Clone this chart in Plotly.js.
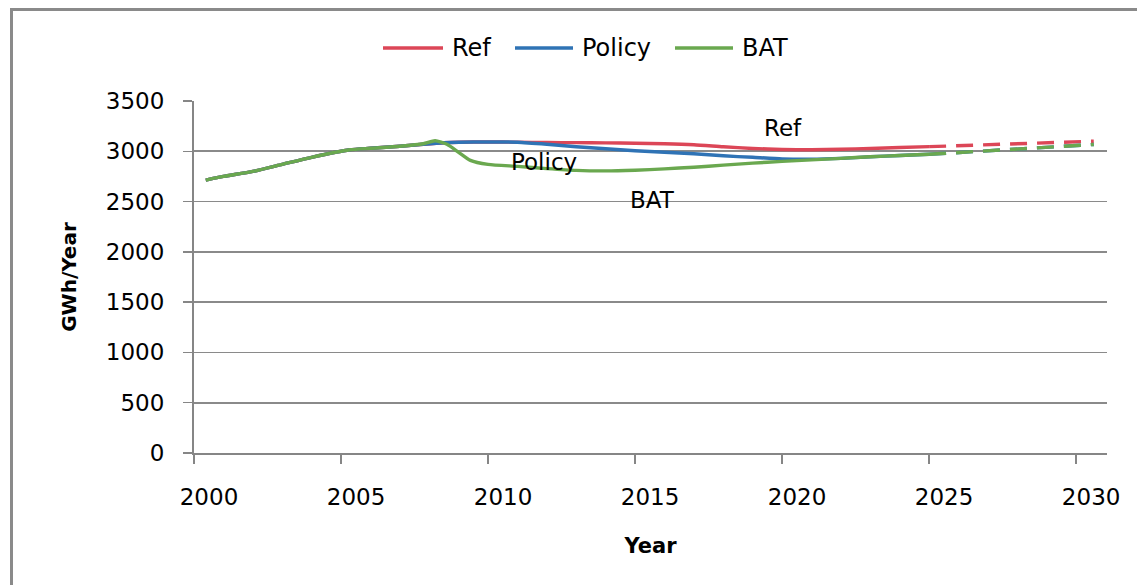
<!DOCTYPE html>
<html>
<head>
<meta charset="utf-8">
<script src="https://cdn.plot.ly/plotly-3.0.1.min.js"></script>
<style>
  html, body { margin: 0; padding: 0; background: #fff; }
  #chart { width: 1137px; height: 585px; }
</style>
</head>
<body>
<div id="chart"></div>
<script>
// Data
var refYears = [2000.4, 2001, 2002, 2003, 2004, 2005.3, 2006, 2007, 2007.8, 2008.5, 2009, 2010, 2011, 2012, 2013, 2014, 2015, 2016, 2017, 2018, 2019, 2020, 2021, 2022, 2023, 2024, 2025];
var refValues = [2714, 2750, 2800, 2870, 2940, 3015, 3030, 3050, 3070, 3085, 3090, 3093, 3090, 3087, 3086, 3084, 3080, 3075, 3065, 3045, 3028, 3018, 3015, 3020, 3028, 3037, 3046];

var policyYears = [2000.4, 2001, 2002, 2003, 2004, 2005.3, 2006, 2007, 2007.8, 2008.5, 2009, 2010, 2011, 2012, 2013, 2014, 2015, 2016, 2017, 2018, 2019, 2020, 2021, 2022, 2023, 2024, 2025];
var policyValues = [2714, 2750, 2800, 2870, 2940, 3015, 3030, 3050, 3070, 3085, 3090, 3093, 3090, 3070, 3045, 3025, 3005, 2990, 2975, 2955, 2940, 2925, 2922, 2930, 2945, 2958, 2970];

var batYears = [2000.4, 2001, 2002, 2003, 2004, 2005.3, 2006, 2007, 2007.8, 2008.2, 2008.6, 2009, 2009.4, 2010, 2011, 2012, 2013, 2014, 2015, 2016, 2017, 2018, 2019, 2020, 2021, 2022, 2023, 2024, 2025];
var batValues = [2714, 2750, 2800, 2870, 2940, 3015, 3030, 3050, 3075, 3105, 3070, 2990, 2910, 2870, 2850, 2828, 2810, 2805, 2812, 2825, 2842, 2862, 2882, 2900, 2915, 2930, 2945, 2958, 2970];

// Projected (dashed) segments
var projYears = [2025, 2030.6];
var refProj = [3046, 3100];
var policyProj = [2970, 3068];
var batProj = [2970, 3068];

var seriesNames = ['Ref', 'Policy', 'BAT'];
var xTicks = [2000, 2005, 2010, 2015, 2020, 2025, 2030];
var yTicks = [0, 500, 1000, 1500, 2000, 2500, 3000, 3500];

var colors = ['#dc4657', '#2f73b5', '#6aa84f'];
var W = 3.4;
var dash = '17px,10px';

var traces = [
  {x: refYears, y: refValues, name: seriesNames[0], mode: 'lines', line: {color: colors[0], width: W, shape: 'spline', smoothing: 0.6}},
  {x: policyYears, y: policyValues, name: seriesNames[1], mode: 'lines', line: {color: colors[1], width: W, shape: 'spline', smoothing: 0.6}},
  {x: batYears, y: batValues, name: seriesNames[2], mode: 'lines', line: {color: colors[2], width: W, shape: 'spline', smoothing: 0.6}},
  {x: projYears, y: refProj, mode: 'lines', showlegend: false, line: {color: colors[0], width: W, dash: dash}},
  {x: projYears, y: policyProj, mode: 'lines', showlegend: false, line: {color: colors[1], width: W, dash: dash}},
  {x: projYears, y: batProj, mode: 'lines', showlegend: false, line: {color: colors[2], width: W, dash: dash}}
];

var font = 'DejaVu Sans, Verdana, sans-serif';

// Pixel helpers for the hand-drawn legend (paper coordinates)
var plotL = 194, plotW = 913, plotB = 453, plotH = 352;
function px(x) { return (x - plotL) / plotW; }
function py(y) { return (plotB - y) / plotH; }
var legendY = 48;
var legendLines = [[383, 443], [515, 573], [675, 733]];
var legendTextX = [450, 580, 740];

var shapes = [
  {type: 'rect', xref: 'paper', yref: 'paper', x0: px(11.5), x1: 2, y0: -3, y1: py(9.5),
   line: {color: '#8a8a8a', width: 3}, fillcolor: 'rgba(0,0,0,0)', layer: 'below'}
];
var annotations = [
  {x: 2020.03, y: 3232, xref: 'x', yref: 'y', text: 'Ref', showarrow: false, font: {family: font, size: 23, color: '#000000'}},
  {x: 2011.9, y: 2893, xref: 'x', yref: 'y', text: 'Policy', showarrow: false, font: {family: font, size: 23, color: '#000000'}},
  {x: 2015.6, y: 2516, xref: 'x', yref: 'y', text: 'BAT', showarrow: false, font: {family: font, size: 23, color: '#000000'}}
];
for (var i = 0; i < seriesNames.length; i++) {
  shapes.push({type: 'line', xref: 'paper', yref: 'paper',
    x0: px(legendLines[i][0]), x1: px(legendLines[i][1]), y0: py(legendY), y1: py(legendY),
    line: {color: colors[i], width: 3.4}});
  annotations.push({xref: 'paper', yref: 'paper', x: px(legendTextX[i]), y: py(legendY),
    xanchor: 'left', yanchor: 'middle', text: seriesNames[i], showarrow: false,
    font: {family: font, size: 24, color: '#000000'}});
}

var layout = {
  width: 1137, height: 585,
  margin: {l: 194, r: 30, t: 101, b: 132},
  paper_bgcolor: '#ffffff',
  plot_bgcolor: '#ffffff',
  font: {family: font, color: '#000000', size: 23},
  showlegend: false,
  xaxis: {
    range: [2000, 2031.05],
    tickmode: 'array', tickvals: xTicks, ticktext: xTicks.map(String),
    showgrid: false, zeroline: false,
    showline: true, linecolor: '#868686', linewidth: 2,
    ticks: 'outside', ticklen: 9, tickwidth: 1.5, tickcolor: '#868686',
    tickfont: {family: font, size: 23, color: '#000000'},
    ticklabelstandoff: 13,
    ticklabelshift: 15,
    title: {text: '<b>Year</b>', font: {family: font, size: 21, color: '#000000'}, standoff: 30}
  },
  yaxis: {
    range: [0, 3500],
    tickmode: 'array', tickvals: yTicks, ticktext: yTicks.map(String),
    showgrid: true, gridcolor: '#8a8a8a', gridwidth: 1.8,
    zeroline: false,
    showline: true, linecolor: '#868686', linewidth: 2,
    ticks: 'outside', ticklen: 9, tickwidth: 1.5, tickcolor: '#868686',
    tickfont: {family: font, size: 23, color: '#000000'},
    ticklabelstandoff: 14,
    title: {text: '<b>GWh/Year</b>', font: {family: font, size: 20, color: '#000000'}, standoff: 24}
  },
  annotations: annotations,
  shapes: shapes
};

Plotly.newPlot('chart', traces, layout, {displayModeBar: false, staticPlot: true});
</script>
</body>
</html>
